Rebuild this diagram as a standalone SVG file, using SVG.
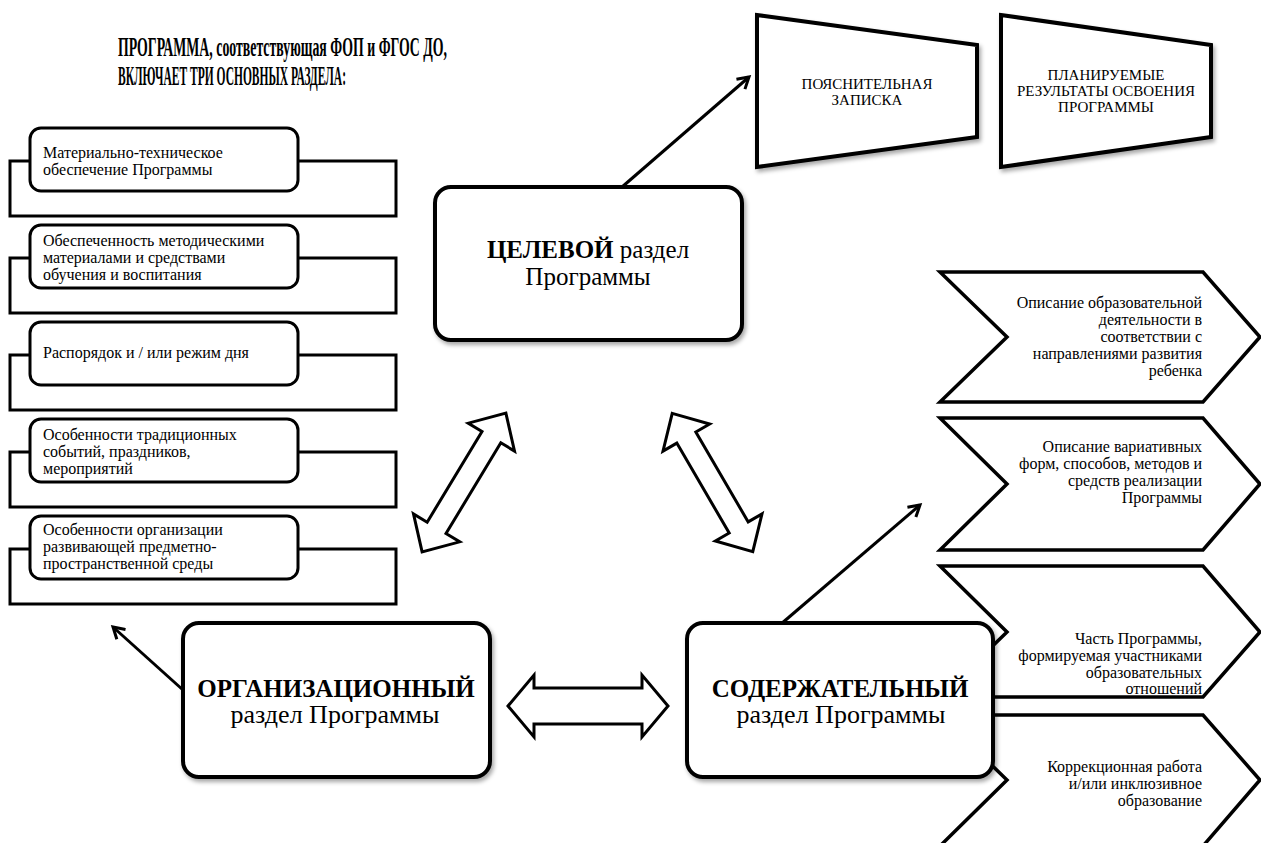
<svg xmlns="http://www.w3.org/2000/svg" width="1261" height="843" viewBox="0 0 1261 843">
<defs>
<filter id="sh" x="-10%" y="-10%" width="125%" height="130%">
<feDropShadow dx="2" dy="3" stdDeviation="2" flood-color="#000" flood-opacity="0.35"/>
</filter>
<marker id="ah" markerWidth="16" markerHeight="16" refX="13" refY="8" orient="auto" markerUnits="userSpaceOnUse">
<path d="M2,1.5 L13,8 L2,14.5" fill="none" stroke="#000" stroke-width="3" stroke-linejoin="miter"/>
</marker>
</defs>
<style>
text{font-family:"Liberation Serif","Times New Roman",serif;fill:#000}
.t{font-size:16px}
.big{font-size:25px}
.big2{font-size:26px}
.tz{font-size:15px}
.b{font-weight:bold}
.outer{fill:#fff;stroke:#000;stroke-width:3}
.inner{fill:#fff;stroke:#000;stroke-width:3}
.main{fill:#fff;stroke:#000;stroke-width:4;filter:url(#sh)}
.trap{fill:#fff;stroke:#000;stroke-width:4;stroke-linejoin:miter;filter:url(#sh)}
.chev{fill:#fff;stroke:#000;stroke-width:3.5;stroke-linejoin:miter}
.dbl{fill:#fff;stroke:#000;stroke-width:3;stroke-linejoin:miter}
.ln{fill:none;stroke:#000;stroke-width:3;marker-end:url(#ah)}
</style>
<rect width="1261" height="843" fill="#fff"/>

<g id="title">
<text class="b" x="118" y="56" font-size="28" textLength="329" lengthAdjust="spacingAndGlyphs">ПРОГРАММА, соответствующая ФОП и ФГОС ДО,</text>
<text class="b" x="118" y="85" font-size="28" textLength="228" lengthAdjust="spacingAndGlyphs">ВКЛЮЧАЕТ ТРИ ОСНОВНЫХ РАЗДЕЛА:</text>
</g>

<g id="chevrons">
<g id="chev1">
<path class="chev" d="M940,272 L1203,272 L1260,337 L1203,402 L940,402 L1007,337 Z"/>
<text class="t" text-anchor="end"><tspan x="1202" y="308">Описание образовательной</tspan><tspan x="1202" y="325">деятельности в</tspan><tspan x="1202" y="342">соответствии с</tspan><tspan x="1202" y="359">направлениями развития</tspan><tspan x="1202" y="376">ребенка</tspan></text>
</g>
<g id="chev2">
<path class="chev" d="M940,418 L1203,418 L1260,484 L1203,550 L940,550 L1007,484 Z"/>
<text class="t" text-anchor="end"><tspan x="1202" y="452">Описание вариативных</tspan><tspan x="1202" y="469">форм, способов, методов и</tspan><tspan x="1202" y="486">средств реализации</tspan><tspan x="1202" y="503">Программы</tspan></text>
</g>
<g id="chev3">
<path class="chev" d="M940,566 L1203,566 L1260,632 L1203,697 L940,697 L1007,632 Z"/>
<text class="t" text-anchor="end"><tspan x="1202" y="644">Часть Программы,</tspan><tspan x="1202" y="661">формируемая участниками</tspan><tspan x="1202" y="678">образовательных</tspan><tspan x="1202" y="694">отношений</tspan></text>
</g>
<g id="chev4">
<path class="chev" d="M940,715 L1203,715 L1260,780 L1203,846 L940,846 L1007,780 Z"/>
<text class="t" text-anchor="end"><tspan x="1202" y="772">Коррекционная работа</tspan><tspan x="1202" y="789">и/или инклюзивное</tspan><tspan x="1202" y="806">образование</tspan></text>
</g>
</g>

<g id="panel1">
<rect class="outer" x="10" y="161" width="386" height="55"/>
<rect class="inner" x="30" y="128" width="268" height="63" rx="11"/>
<text class="t"><tspan x="43" y="158">Материально-техническое</tspan><tspan x="43" y="175">обеспечение Программы</tspan></text>
</g>
<g id="panel2">
<rect class="outer" x="10" y="258" width="386" height="55"/>
<rect class="inner" x="30" y="225" width="268" height="63" rx="11"/>
<text class="t"><tspan x="43" y="246">Обеспеченность методическими</tspan><tspan x="43" y="263">материалами и средствами</tspan><tspan x="43" y="280">обучения и воспитания</tspan></text>
</g>
<g id="panel3">
<rect class="outer" x="10" y="355" width="386" height="55"/>
<rect class="inner" x="30" y="322" width="268" height="63" rx="11"/>
<text class="t"><tspan x="43" y="358">Распорядок и / или режим дня</tspan></text>
</g>
<g id="panel4">
<rect class="outer" x="10" y="452" width="386" height="55"/>
<rect class="inner" x="30" y="419" width="268" height="63" rx="11"/>
<text class="t"><tspan x="43" y="440">Особенности традиционных</tspan><tspan x="43" y="457">событий, праздников,</tspan><tspan x="43" y="474">мероприятий</tspan></text>
</g>
<g id="panel5">
<rect class="outer" x="10" y="549" width="386" height="55"/>
<rect class="inner" x="30" y="516" width="268" height="63" rx="11"/>
<text class="t"><tspan x="43" y="535">Особенности организации</tspan><tspan x="43" y="552">развивающей предметно-</tspan><tspan x="43" y="569">пространственной среды</tspan></text>
</g>

<g id="trap1">
<path class="trap" d="M757,15 L977,45 L977,137 L757,167 Z"/>
<text class="tz" text-anchor="middle"><tspan x="867" y="89">ПОЯСНИТЕЛЬНАЯ</tspan><tspan x="867" y="105">ЗАПИСКА</tspan></text>
</g>
<g id="trap2">
<path class="trap" d="M1001,15 L1211,45 L1211,137 L1001,167 Z"/>
<text class="tz" text-anchor="middle"><tspan x="1106" y="80">ПЛАНИРУЕМЫЕ</tspan><tspan x="1106" y="96">РЕЗУЛЬТАТЫ ОСВОЕНИЯ</tspan><tspan x="1106" y="112">ПРОГРАММЫ</tspan></text>
</g>

<g id="connectors">
<line class="ln" x1="622" y1="187" x2="749" y2="77"/>
<line class="ln" x1="781" y1="624" x2="920" y2="505"/>
<line class="ln" x1="183" y1="690" x2="113" y2="627"/>
<path class="dbl" transform="translate(464,482.5) rotate(-58.86)" d="M-81,0 L-53,-27 L-53,-11 L53,-11 L53,-27 L81,0 L53,27 L53,11 L-53,11 L-53,27 Z"/>
<path class="dbl" transform="translate(712.5,482.5) rotate(59.77)" d="M-80,0 L-52,-27 L-52,-11 L52,-11 L52,-27 L80,0 L52,27 L52,11 L-52,11 L-52,27 Z"/>
<path class="dbl" transform="translate(588,706)" d="M-80,0 L-54,-31 L-54,-18 L54,-18 L54,-31 L80,0 L54,31 L54,18 L-54,18 L-54,31 Z"/>
</g>

<g id="target">
<rect class="main" x="435" y="187" width="307" height="153" rx="16"/>
<text class="big" text-anchor="middle"><tspan x="588" y="258"><tspan class="b">ЦЕЛЕВОЙ</tspan> раздел</tspan><tspan x="588" y="285">Программы</tspan></text>
</g>
<g id="org">
<rect class="main" x="183" y="623" width="307" height="154" rx="16"/>
<text class="big" text-anchor="middle"><tspan class="b" x="336" y="697">ОРГАНИЗАЦИОННЫЙ</tspan><tspan class="big2" x="335" y="723">раздел Программы</tspan></text>
</g>
<g id="content">
<rect class="main" x="687" y="623" width="306" height="154" rx="16"/>
<text class="big" text-anchor="middle"><tspan class="b" x="840" y="697">СОДЕРЖАТЕЛЬНЫЙ</tspan><tspan class="big2" x="841" y="723">раздел Программы</tspan></text>
</g>
</svg>
